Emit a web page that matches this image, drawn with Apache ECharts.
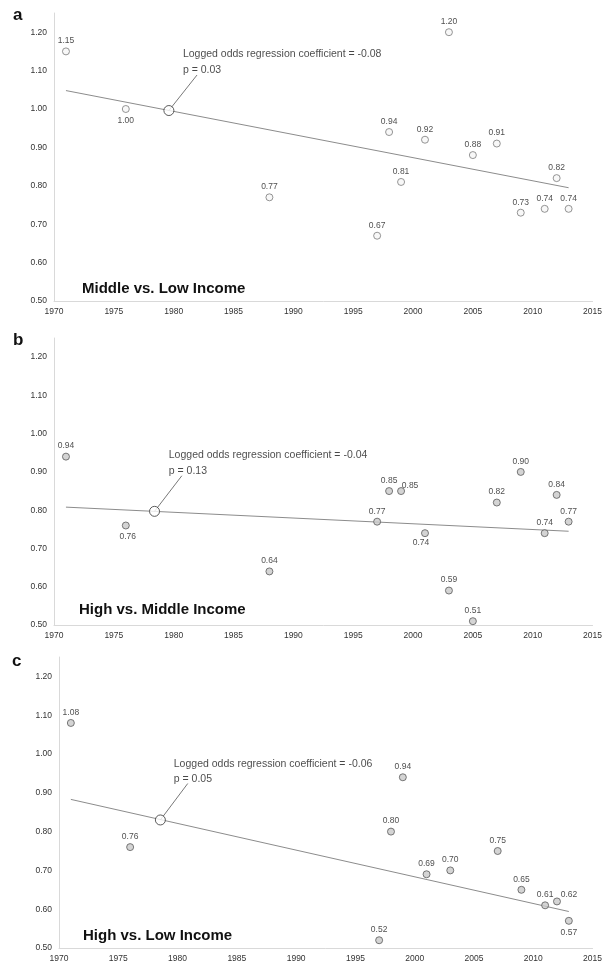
<!DOCTYPE html>
<html><head><meta charset="utf-8">
<script src="https://cdn.jsdelivr.net/npm/echarts@6/dist/echarts.min.js"></script>
<style>html,body{margin:0;padding:0;background:#fff}#c{width:605px;height:967px}</style>
</head><body><div id="c"></div>
<script>
// ---- data ----
const yearsA = [1971,1976,1988,1997,1998,1999,2001,2003,2005,2007,2009,2011,2012,2013];
const valuesA = [1.15,1.00,0.77,0.67,0.94,0.81,0.92,1.20,0.88,0.91,0.73,0.74,0.82,0.74];
const yearsB = [1971,1976,1988,1997,1998,1999,2001,2003,2005,2007,2009,2011,2012,2013];
const valuesB = [0.94,0.76,0.64,0.77,0.85,0.85,0.74,0.59,0.51,0.82,0.90,0.74,0.84,0.77];
const yearsC = [1971,1976,1997,1998,1999,2001,2003,2007,2009,2011,2012,2013];
const valuesC = [1.08,0.76,0.52,0.80,0.94,0.69,0.70,0.75,0.65,0.61,0.62,0.57];
const trendA = [[1971,1.048],[2013,0.795]];
const trendB = [[1971,0.808],[2013,0.745]];
const trendC = [[1971,0.883],[2013,0.594]];
const calloutA = [1979.6,0.996];
const calloutB = [1978.4,0.797];
const calloutC = [1978.55,0.830];
const coefA = ["Logged odds regression coefficient = -0.08","p = 0.03"];
const coefB = ["Logged odds regression coefficient = -0.04","p = 0.13"];
const coefC = ["Logged odds regression coefficient = -0.06","p = 0.05"];
const panelTitles = ["Middle vs. Low Income","High vs. Middle Income","High vs. Low Income"];
const panelLetters = ["a","b","c"];
const xMin = 1970, xMax = 2015, xStep = 5;
const yMin = 0.5, yMax = 1.25, yStep = 0.1;

// ---- layout (positions / styles) ----
const FONT = "Liberation Sans, Arial, sans-serif";
const grids = [
  {left:54, top:13, width:543, height:288},
  {left:54, top:338, width:543, height:287},
  {left:59, top:657, width:539, height:291}
];
// where the leader line ends and where the annotation text lines sit (data coords)
const leaderEnd = [[1981.95,1.0885],[1980.68,0.890],[1980.86,0.924]];
const textPos = [
  [[1980.77,1.143],[1980.77,1.1016]],
  [[1979.59,0.944],[1979.59,0.903]],
  [[1979.68,0.975],[1979.68,0.936]]
];
const titlePos = [{left:82,top:281},{left:79,top:602},{left:83,top:928}];
const letterPos = [{left:13,top:7},{left:13,top:332},{left:12,top:653}];
// label placement overrides: key "panel-year"
const labelOverride = {
  "0-1976": {position:"bottom", distance:3},
  "1-1976": {position:"bottom", distance:3, offset:[2,0]},
  "1-2001": {position:"bottom", distance:1, offset:[-4,0]},
  "1-1999": {position:"top", distance:2, offset:[9,5]},
  "2-2013": {position:"bottom", distance:3},
  "2-2012": {position:"top", distance:2, offset:[12,4]}
};

const panels = [
  {years:yearsA, values:valuesA, trend:trendA, callout:calloutA, coef:coefA,
   fill:"#f6f6f6", border:"#7a7a7a"},
  {years:yearsB, values:valuesB, trend:trendB, callout:calloutB, coef:coefB,
   fill:"#c9c9c9", border:"#5a5a5a"},
  {years:yearsC, values:valuesC, trend:trendC, callout:calloutC, coef:coefC,
   fill:"#c9c9c9", border:"#5a5a5a"}
];

const option = {
  backgroundColor:"#ffffff",
  animation:false,
  textStyle:{fontFamily:FONT},
  title:[],
  grid:[], xAxis:[], yAxis:[], series:[]
};

panels.forEach((p,i)=>{
  option.grid.push(Object.assign({containLabel:false}, grids[i]));
  option.xAxis.push({
    type:"value", gridIndex:i, min:xMin, max:xMax, interval:xStep,
    axisLine:{show:true, lineStyle:{color:"#d9d9d9", width:1}},
    axisTick:{show:false}, splitLine:{show:false},
    axisLabel:{fontSize:8.5, color:"#333", margin:6, fontFamily:FONT,
      showMaxLabel:true, showMinLabel:true, formatter:v=>String(v)}
  });
  option.yAxis.push({
    type:"value", gridIndex:i, min:yMin, max:yMax, interval:yStep,
    axisLine:{show:true, lineStyle:{color:"#d9d9d9", width:1}},
    axisTick:{show:false}, splitLine:{show:false},
    axisLabel:{fontSize:8.5, color:"#333", margin:7, fontFamily:FONT,
      showMaxLabel:false,
      formatter:v=> (Math.abs(v-1.25)<1e-6 ? "" : v.toFixed(2))}
  });
  // trend line
  option.series.push({
    type:"line", xAxisIndex:i, yAxisIndex:i, data:p.trend, symbol:"none", silent:true,
    lineStyle:{color:"#8c8c8c", width:1}, z:2
  });
  // scatter points
  option.series.push({
    type:"scatter", xAxisIndex:i, yAxisIndex:i, symbolSize:7, z:4,
    itemStyle:{color:p.fill, borderColor:p.border, borderWidth:1},
    data:p.years.map((y,k)=>{
      const ov = labelOverride[i+"-"+y];
      const d = {value:[y,p.values[k]]};
      if (ov) d.label = Object.assign({}, ov);
      return d;
    }),
    label:{show:true, position:"top", distance:2, fontSize:8.5, color:"#222", fontFamily:FONT,
      formatter:o=>o.value[1].toFixed(2)}
  });
  // leader line
  option.series.push({
    type:"line", xAxisIndex:i, yAxisIndex:i, data:[p.callout, leaderEnd[i]], symbol:"none", silent:true,
    lineStyle:{color:"#555", width:0.8}, z:3
  });
  // callout circle
  option.series.push({
    type:"scatter", xAxisIndex:i, yAxisIndex:i, data:[p.callout], symbolSize:10, z:5, silent:true,
    itemStyle:{color:"#ffffff", borderColor:"#333", borderWidth:1}
  });
  // annotation text
  option.series.push({
    type:"scatter", xAxisIndex:i, yAxisIndex:i, data:textPos[i], symbolSize:0, z:6, silent:true,
    itemStyle:{color:"rgba(0,0,0,0)"},
    label:{show:true, position:"right", distance:0, fontSize:10.5, color:"#1a1a1a", fontFamily:FONT,
      formatter:o=>p.coef[o.dataIndex]}
  });
  option.title.push({
    text:panelTitles[i], left:titlePos[i].left, top:titlePos[i].top, padding:0,
    textStyle:{fontSize:15, fontWeight:"bold", color:"#111", fontFamily:FONT}
  });
  option.title.push({
    text:panelLetters[i], left:letterPos[i].left, top:letterPos[i].top, padding:0,
    textStyle:{fontSize:17, fontWeight:"bold", color:"#111", fontFamily:FONT}
  });
});

const chart = echarts.init(document.getElementById("c"), null, {renderer:"canvas"});
chart.setOption(option);
</script>
</body></html>
